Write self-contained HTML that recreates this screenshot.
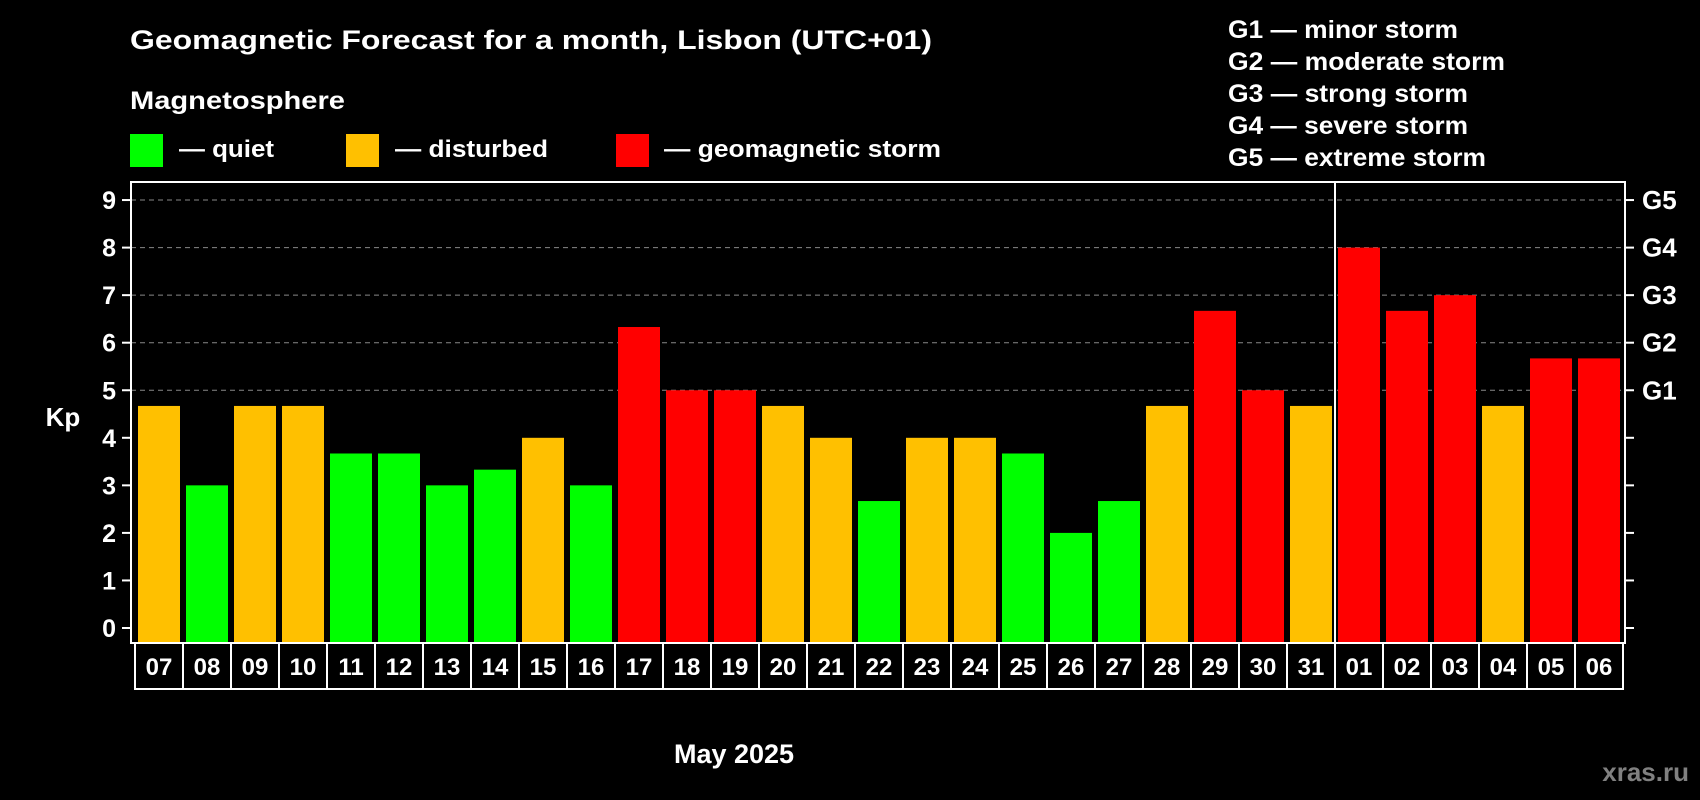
<!DOCTYPE html>
<html><head><meta charset="utf-8"><style>
html,body{margin:0;padding:0;background:#000;}
svg{display:block;font-family:"Liberation Sans",Arial,sans-serif;font-weight:bold;}
</style></head><body>
<svg id="chart" width="1700" height="800" viewBox="0 0 1700 800">
<text x="130" y="49" font-size="27" fill="#fff" textLength="802" lengthAdjust="spacingAndGlyphs">Geomagnetic Forecast for a month, Lisbon (UTC+01)</text>
<text x="130" y="109" font-size="25" fill="#fff" textLength="215" lengthAdjust="spacingAndGlyphs">Magnetosphere</text>
<g>
<rect x="130" y="134" width="33" height="33" fill="#00ff00"/>
<text x="179" y="157" font-size="24" fill="#fff" textLength="95" lengthAdjust="spacingAndGlyphs">— quiet</text></g>
<g>
<rect x="346" y="134" width="33" height="33" fill="#ffc000"/>
<text x="395" y="157" font-size="24" fill="#fff" textLength="153" lengthAdjust="spacingAndGlyphs">— disturbed</text></g>
<g>
<rect x="616" y="134" width="33" height="33" fill="#ff0000"/>
<text x="664" y="157" font-size="24" fill="#fff" textLength="277" lengthAdjust="spacingAndGlyphs">— geomagnetic storm</text></g>
<g font-size="25" fill="#fff">
<text x="1228" y="38" textLength="230" lengthAdjust="spacingAndGlyphs">G1 — minor storm</text>
<text x="1228" y="70" textLength="277" lengthAdjust="spacingAndGlyphs">G2 — moderate storm</text>
<text x="1228" y="102" textLength="240" lengthAdjust="spacingAndGlyphs">G3 — strong storm</text>
<text x="1228" y="134" textLength="240" lengthAdjust="spacingAndGlyphs">G4 — severe storm</text>
<text x="1228" y="166" textLength="258" lengthAdjust="spacingAndGlyphs">G5 — extreme storm</text>
</g>
<g id="grid"></g>
<g id="bars"></g>
<g id="axes"></g>
<text x="63" y="426" font-size="26" fill="#fff" text-anchor="middle">Kp</text>
<text x="734" y="763" font-size="27" fill="#fff" text-anchor="middle">May 2025</text>
<text x="1689" y="781" font-size="26" fill="#808080" text-anchor="end">xras.ru</text>
</svg>
<script>
const days = ["07","08","09","10","11","12","13","14","15","16","17","18","19","20","21","22","23","24","25","26","27","28","29","30","31","01","02","03","04","05","06"];
const kpValues = [4.67,3,4.67,4.67,3.67,3.67,3,3.33,4,3,6.33,5,5,4.67,4,2.67,4,4,3.67,2,2.67,4.67,6.67,5,4.67,8,6.67,7,4.67,5.67,5.67];
const yTicks = [0,1,2,3,4,5,6,7,8,9];
const gLabels = ["G1","G2","G3","G4","G5"];
const gLevels = [5,6,7,8,9];
const monthBreakIndex = 25;

const NS = "http://www.w3.org/2000/svg";
const L = 131, R = 1625, T = 182, B = 643;
const y0 = 628, unit = 47.55;
const x0 = 138, pitch = 48, bw = 42;
function yScale(v){ return y0 - v*unit; }
function xScale(i){ return x0 + i*pitch; }
function colorFor(v){ return v >= 5 ? "#ff0000" : (v >= 4 ? "#ffc000" : "#00ff00"); }
function mk(tag, attrs, parent){ const e=document.createElementNS(NS,tag); for(const k in attrs) e.setAttribute(k,attrs[k]); parent.appendChild(e); return e; }

const grid = document.getElementById("grid");
const bars = document.getElementById("bars");
const axes = document.getElementById("axes");

gLevels.forEach((lv)=>{
  const ln = mk("line",{x1:L,x2:R,y1:yScale(lv),y2:yScale(lv),stroke:"#888","stroke-width":1,"stroke-dasharray":"5,4"},grid);
  
  
});

kpValues.forEach((v,i)=>{
  const r = mk("rect",{x:xScale(i),y:yScale(v),width:bw,height:B-yScale(v),fill:colorFor(v)},bars);
  
  
  const bx = mk("rect",{x:xScale(i)-3,y:B,width:pitch,height:46,fill:"none",stroke:"#fff","stroke-width":2},axes);
  
  
  const t = mk("text",{x:xScale(i)+bw/2,y:675,"font-size":24,fill:"#fff","text-anchor":"middle"},axes);
  t.textContent = days[i];
  
  
});

const frame = mk("rect",{x:L,y:T,width:R-L,height:B-T,fill:"none",stroke:"#fff","stroke-width":2},axes);



const sep = mk("line",{x1:xScale(monthBreakIndex)-3,x2:xScale(monthBreakIndex)-3,y1:T,y2:B,stroke:"#fff","stroke-width":2},axes);



yTicks.forEach((v)=>{
  const y = yScale(v);
  const tl = mk("line",{x1:122,x2:L,y1:y,y2:y,stroke:"#fff","stroke-width":2},axes);
  
  
  const tr = mk("line",{x1:R,x2:1634,y1:y,y2:y,stroke:"#fff","stroke-width":2},axes);
  
  
  const t = mk("text",{x:116,y:y+9,"font-size":25,fill:"#fff","text-anchor":"end"},axes);
  t.textContent = v;
  
  
});

gLevels.forEach((lv,i)=>{
  const t = mk("text",{x:1642,y:yScale(lv)+9,"font-size":26,fill:"#fff"},axes);
  t.textContent = gLabels[i];
  
  
});
</script>
</body></html>
